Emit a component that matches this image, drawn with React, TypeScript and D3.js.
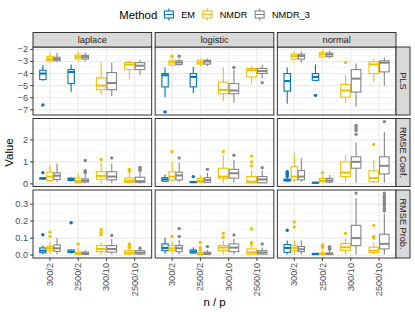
import React, { useEffect, useRef } from "react";
import * as d3 from "d3";

const methods = ["EM", "NMDR", "NMDR_3"];
const methodColors = ["#0073C2", "#EFC000", "#868686"];
const families = ["laplace", "logistic", "normal"];
const metrics = ["PLS", "RMSE Coef.", "RMSE Prob."];
const categories = ["300/2", "2500/2", "300/10", "2500/10"];

const plsTicks = [-7, -6, -5, -4, -3, -2];
const coefTicks = [0, 1, 2];
const probTicks = [0, 0.1, 0.2, 0.3];

// [family, n/p, method, lower whisker, q1, median, q3, upper whisker, outliers]
type Row = [string, string, string, number, number, number, number, number, number[]];

const plsStats: Row[] = [
  ["laplace", "300/2", "EM", -4.6, -4.5, -4.0, -3.73, -3.3, [-6.6]],
  ["laplace", "300/2", "NMDR", -3.1, -2.95, -2.8, -2.6, -2.28, []],
  ["laplace", "300/2", "NMDR_3", -3.05, -2.95, -2.8, -2.65, -2.28, []],
  ["laplace", "2500/2", "EM", -5.5, -4.83, -3.87, -3.67, -3.25, []],
  ["laplace", "2500/2", "NMDR", -3.0, -2.8, -2.64, -2.48, -2.2, []],
  ["laplace", "2500/2", "NMDR_3", -3.0, -2.8, -2.64, -2.5, -2.25, []],
  ["laplace", "300/10", "NMDR", -5.75, -5.33, -5.0, -4.37, -3.1, []],
  ["laplace", "300/10", "NMDR_3", -5.85, -5.33, -4.78, -3.92, -3.1, []],
  ["laplace", "2500/10", "NMDR", -4.47, -3.67, -3.25, -3.08, -2.9, []],
  ["laplace", "2500/10", "NMDR_3", -4.15, -3.67, -3.35, -3.1, -2.85, []],
  ["logistic", "300/2", "EM", -5.95, -5.1, -4.14, -4.0, -3.5, [-7.17]],
  ["logistic", "300/2", "NMDR", -3.35, -3.3, -3.08, -2.95, -2.75, [-2.56]],
  ["logistic", "300/2", "NMDR_3", -3.35, -3.25, -3.08, -2.95, -2.75, [-2.56]],
  ["logistic", "2500/2", "EM", -5.6, -5.1, -4.28, -4.0, -3.45, []],
  ["logistic", "2500/2", "NMDR", -3.4, -3.22, -3.08, -2.9, -2.75, []],
  ["logistic", "2500/2", "NMDR_3", -3.4, -3.22, -3.0, -2.9, -2.75, []],
  ["logistic", "300/10", "NMDR", -6.28, -5.67, -5.35, -4.7, -3.5, []],
  ["logistic", "300/10", "NMDR_3", -6.42, -5.67, -5.4, -4.83, -3.7, [-3.5]],
  ["logistic", "2500/10", "NMDR", -4.83, -4.28, -3.72, -3.58, -3.4, []],
  ["logistic", "2500/10", "NMDR_3", -4.42, -4.0, -3.8, -3.58, -3.3, [-4.75]],
  ["normal", "300/2", "EM", -6.5, -5.45, -4.62, -4.0, -3.5, []],
  ["normal", "300/2", "NMDR", -2.95, -2.8, -2.56, -2.4, -2.2, []],
  ["normal", "300/2", "NMDR_3", -3.08, -2.8, -2.55, -2.4, -2.15, []],
  ["normal", "2500/2", "EM", -4.6, -4.56, -4.28, -4.0, -3.25, [-5.8]],
  ["normal", "2500/2", "NMDR", -2.75, -2.62, -2.42, -2.28, -2.06, []],
  ["normal", "2500/2", "NMDR_3", -2.75, -2.6, -2.42, -2.3, -2.1, []],
  ["normal", "300/10", "NMDR", -6.45, -5.95, -5.4, -4.9, -4.1, [-3.08]],
  ["normal", "300/10", "NMDR_3", -6.72, -5.53, -4.42, -3.67, -3.17, []],
  ["normal", "2500/10", "NMDR", -4.7, -4.0, -3.25, -3.03, -2.83, []],
  ["normal", "2500/10", "NMDR_3", -4.98, -3.86, -3.1, -2.95, -2.67, []],
];

const coefStats: Row[] = [
  ["laplace", "300/2", "EM", 0.18, 0.22, 0.25, 0.27, 0.3, [0.51]],
  ["laplace", "300/2", "NMDR", 0.1, 0.15, 0.33, 0.53, 0.86, []],
  ["laplace", "300/2", "NMDR_3", 0.1, 0.2, 0.37, 0.5, 0.93, []],
  ["laplace", "2500/2", "EM", 0.12, 0.15, 0.2, 0.26, 0.3, []],
  ["laplace", "2500/2", "NMDR", 0.03, 0.05, 0.12, 0.26, 0.48, []],
  ["laplace", "2500/2", "NMDR_3", 0.04, 0.08, 0.15, 0.22, 0.42, [0.5, 0.55, 0.6, 1.06]],
  ["laplace", "300/10", "NMDR", 0.03, 0.21, 0.36, 0.55, 0.96, [1.11]],
  ["laplace", "300/10", "NMDR_3", 0.03, 0.18, 0.33, 0.55, 0.93, [1.18]],
  ["laplace", "2500/10", "NMDR", 0.02, 0.07, 0.13, 0.26, 0.5, [0.58, 0.62, 0.66]],
  ["laplace", "2500/10", "NMDR_3", 0.02, 0.07, 0.12, 0.3, 0.55, [0.62, 0.68, 0.75]],
  ["logistic", "300/2", "EM", 0.08, 0.12, 0.2, 0.28, 0.42, []],
  ["logistic", "300/2", "NMDR", 0.08, 0.18, 0.33, 0.55, 1.0, [1.46]],
  ["logistic", "300/2", "NMDR_3", 0.08, 0.18, 0.38, 0.53, 0.96, [1.18]],
  ["logistic", "2500/2", "EM", 0.04, 0.06, 0.08, 0.1, 0.12, [0.33]],
  ["logistic", "2500/2", "NMDR", 0.04, 0.07, 0.13, 0.25, 0.4, []],
  ["logistic", "2500/2", "NMDR_3", 0.04, 0.07, 0.17, 0.28, 0.5, [0.66]],
  ["logistic", "300/10", "NMDR", 0.05, 0.26, 0.33, 0.71, 1.3, [1.46]],
  ["logistic", "300/10", "NMDR_3", 0.05, 0.26, 0.48, 0.66, 1.1, [1.3]],
  ["logistic", "2500/10", "NMDR", 0.03, 0.05, 0.1, 0.33, 0.6, [0.81, 1.0, 1.26]],
  ["logistic", "2500/10", "NMDR_3", 0.03, 0.05, 0.2, 0.33, 0.6, [0.73]],
  ["normal", "300/2", "EM", 0.1, 0.13, 0.17, 0.22, 0.3, [0.35, 0.43, 0.5, 0.55]],
  ["normal", "300/2", "NMDR", 0.08, 0.18, 0.33, 0.78, 1.41, []],
  ["normal", "300/2", "NMDR_3", 0.1, 0.18, 0.33, 0.6, 1.16, []],
  ["normal", "2500/2", "EM", 0.03, 0.04, 0.05, 0.07, 0.09, []],
  ["normal", "2500/2", "NMDR", 0.05, 0.1, 0.15, 0.25, 0.4, [0.51]],
  ["normal", "2500/2", "NMDR_3", 0.05, 0.08, 0.15, 0.25, 0.4, []],
  ["normal", "300/10", "NMDR", 0.08, 0.33, 0.51, 1.0, 1.31, []],
  ["normal", "300/10", "NMDR_3", 0.05, 0.71, 1.0, 1.23, 1.88, [2.25, 2.42, 2.5, 2.58, 2.65]],
  ["normal", "2500/10", "NMDR", 0.04, 0.1, 0.26, 0.59, 1.08, [1.79]],
  ["normal", "2500/10", "NMDR_3", 0.05, 0.45, 0.82, 1.23, 2.36, [2.83]],
];

const probStats: Row[] = [
  ["laplace", "300/2", "EM", 0.005, 0.014, 0.026, 0.042, 0.056, [0.12]],
  ["laplace", "300/2", "NMDR", 0.005, 0.026, 0.04, 0.05, 0.075, [0.11, 0.135]],
  ["laplace", "300/2", "NMDR_3", 0.005, 0.022, 0.04, 0.06, 0.1, []],
  ["laplace", "2500/2", "EM", 0.01, 0.015, 0.02, 0.03, 0.035, [0.19]],
  ["laplace", "2500/2", "NMDR", 0.002, 0.004, 0.01, 0.017, 0.045, [0.065]],
  ["laplace", "2500/2", "NMDR_3", 0.002, 0.004, 0.01, 0.017, 0.03, []],
  ["laplace", "300/10", "NMDR", 0.003, 0.02, 0.036, 0.056, 0.075, [0.12, 0.135, 0.15]],
  ["laplace", "300/10", "NMDR_3", 0.005, 0.017, 0.036, 0.056, 0.095, [0.115]],
  ["laplace", "2500/10", "NMDR", 0.002, 0.006, 0.014, 0.026, 0.04, [0.045, 0.05, 0.055, 0.06, 0.065]],
  ["laplace", "2500/10", "NMDR_3", 0.002, 0.006, 0.014, 0.026, 0.035, [0.04]],
  ["logistic", "300/2", "EM", 0.008, 0.026, 0.042, 0.066, 0.1, []],
  ["logistic", "300/2", "NMDR", 0.005, 0.026, 0.04, 0.056, 0.08, [0.11]],
  ["logistic", "300/2", "NMDR_3", 0.005, 0.02, 0.04, 0.056, 0.09, [0.11, 0.156]],
  ["logistic", "2500/2", "EM", 0.008, 0.012, 0.02, 0.03, 0.045, []],
  ["logistic", "2500/2", "NMDR", 0.002, 0.003, 0.008, 0.017, 0.025, [0.03, 0.045, 0.075]],
  ["logistic", "2500/2", "NMDR_3", 0.002, 0.004, 0.01, 0.017, 0.03, [0.05]],
  ["logistic", "300/10", "NMDR", 0.005, 0.026, 0.044, 0.056, 0.085, [0.105, 0.128]],
  ["logistic", "300/10", "NMDR_3", 0.005, 0.02, 0.044, 0.066, 0.095, [0.118]],
  ["logistic", "2500/10", "NMDR", 0.002, 0.005, 0.016, 0.036, 0.056, [0.065, 0.075, 0.155]],
  ["logistic", "2500/10", "NMDR_3", 0.002, 0.006, 0.015, 0.026, 0.045, [0.065]],
  ["normal", "300/2", "EM", 0.005, 0.016, 0.042, 0.062, 0.086, [0.146]],
  ["normal", "300/2", "NMDR", 0.005, 0.026, 0.042, 0.056, 0.086, [0.165, 0.195]],
  ["normal", "300/2", "NMDR_3", 0.005, 0.02, 0.034, 0.05, 0.086, []],
  ["normal", "2500/2", "EM", 0.002, 0.003, 0.006, 0.01, 0.013, []],
  ["normal", "2500/2", "NMDR", 0.001, 0.003, 0.006, 0.012, 0.03, [0.045, 0.05, 0.055, 0.06]],
  ["normal", "2500/2", "NMDR_3", 0.001, 0.003, 0.008, 0.012, 0.03, [0.035, 0.04, 0.045, 0.05]],
  ["normal", "300/10", "NMDR", 0.004, 0.028, 0.046, 0.068, 0.1, [0.128]],
  ["normal", "300/10", "NMDR_3", 0.003, 0.056, 0.1, 0.175, 0.335, [0.365]],
  ["normal", "2500/10", "NMDR", 0.003, 0.014, 0.026, 0.046, 0.075, [0.1, 0.11, 0.175]],
  ["normal", "2500/10", "NMDR_3", 0.003, 0.036, 0.066, 0.123, 0.245, [0.26, 0.275, 0.29, 0.3, 0.31, 0.32, 0.33, 0.34, 0.35, 0.365]],
];

const rowStats = [plsStats, coefStats, probStats];
const rowTicks = [plsTicks, coefTicks, probTicks];
const rowFormats = [d3.format("d"), d3.format("d"), d3.format(".1f")];

const W = 415;
const H = 312;
const FONT = "'Liberation Sans', Arial, sans-serif";

export default function App() {
  const svgRef = useRef<SVGSVGElement>(null);

  useEffect(() => {
    if (!svgRef.current) return;
    const svg = d3.select(svgRef.current);
    svg.selectAll("*").remove();

    const margin = { top: 47, right: 19, bottom: 54, left: 33 };
    const gap = 3.5;
    const stripH = 14.5;
    const stripW = 14;
    const pw = (W - margin.left - margin.right - 2 * gap) / 3;
    const ph = (H - margin.top - margin.bottom - 2 * gap) / 3;
    const color = d3.scaleOrdinal<string, string>().domain(methods).range(methodColors);

    svg.append("rect").attr("width", W).attr("height", H).attr("fill", "white");

    metrics.forEach((metric, r) => {
      const stats = rowStats[r];
      const all = stats.flatMap(d => [d[3], d[7], ...d[8]]);
      const lo = d3.min(all)!;
      const hi = d3.max(all)!;
      const pad = (hi - lo) * 0.05;
      const ticks = rowTicks[r];
      const py = margin.top + r * (ph + gap);
      const y = d3.scaleLinear().domain([lo - pad, hi + pad]).range([py + ph, py]);
      const step = ticks[1] - ticks[0];
      const minors: number[] = [];
      for (let i = -1; i < ticks.length; i++) {
        const v = ticks[0] + (i + 0.5) * step;
        if (v > lo - pad && v < hi + pad) minors.push(v);
      }

      families.forEach((fam, c) => {
        const px = margin.left + c * (pw + gap);
        const x = d3.scalePoint<string>().domain(categories).range([px, px + pw]).padding(0.6);
        const g = svg.append("g");

        g.append("rect").attr("x", px).attr("y", py).attr("width", pw).attr("height", ph).attr("fill", "white");

        g.selectAll(".minor").data(minors).enter().append("line")
          .attr("x1", px).attr("x2", px + pw)
          .attr("y1", d => y(d)).attr("y2", d => y(d))
          .attr("stroke", "#EBEBEB").attr("stroke-width", 0.55);

        g.selectAll(".major").data(ticks).enter().append("line")
          .attr("x1", px).attr("x2", px + pw)
          .attr("y1", d => y(d)).attr("y2", d => y(d))
          .attr("stroke", "#EBEBEB").attr("stroke-width", 1.1);

        g.selectAll(".xmajor").data(categories).enter().append("line")
          .attr("x1", d => x(d)!).attr("x2", d => x(d)!)
          .attr("y1", py).attr("y2", py + ph)
          .attr("stroke", "#EBEBEB").attr("stroke-width", 1.1);

        // boxes
        const famStats = stats.filter(d => d[0] === fam);
        categories.forEach(cat => {
          const grp = famStats.filter(d => d[1] === cat)
            .sort((a, b) => methods.indexOf(a[2]) - methods.indexOf(b[2]));
          const n = grp.length;
          const slot = (0.75 * x.step()) / n;
          grp.forEach((d, k) => {
            const cx = x(cat)! + (k - (n - 1) / 2) * slot;
            const bw = slot * 0.9;
            const col = color(d[2]);
            g.append("line").attr("x1", cx).attr("x2", cx).attr("y1", y(d[3])).attr("y2", y(d[4]))
              .attr("stroke", col).attr("stroke-width", 1.1);
            g.append("line").attr("x1", cx).attr("x2", cx).attr("y1", y(d[6])).attr("y2", y(d[7]))
              .attr("stroke", col).attr("stroke-width", 1.1);
            g.append("rect").attr("x", cx - bw / 2).attr("y", y(d[6]))
              .attr("width", bw).attr("height", Math.max(0.5, y(d[4]) - y(d[6])))
              .attr("fill", "white").attr("stroke", col).attr("stroke-width", 1.1);
            g.append("line").attr("x1", cx - bw / 2).attr("x2", cx + bw / 2)
              .attr("y1", y(d[5])).attr("y2", y(d[5]))
              .attr("stroke", col).attr("stroke-width", 2);
            g.selectAll(null).data(d[8]).enter().append("circle")
              .attr("cx", cx).attr("cy", v => y(v)).attr("r", 1.7).attr("fill", col);
          });
        });

        g.append("rect").attr("x", px).attr("y", py).attr("width", pw).attr("height", ph)
          .attr("fill", "none").attr("stroke", "#333333").attr("stroke-width", 1);

        // top strip
        if (r === 0) {
          g.append("rect").attr("x", px).attr("y", py - stripH).attr("width", pw).attr("height", stripH)
            .attr("fill", "#D9D9D9").attr("stroke", "#333333").attr("stroke-width", 1);
          g.append("text").attr("x", px + pw / 2).attr("y", py - stripH / 2)
            .attr("text-anchor", "middle").attr("dominant-baseline", "central")
            .attr("font-family", FONT).attr("font-size", 9.2).attr("fill", "#1A1A1A").text(fam);
        }
        // right strip
        if (c === families.length - 1) {
          g.append("rect").attr("x", px + pw).attr("y", py).attr("width", stripW).attr("height", ph)
            .attr("fill", "#D9D9D9").attr("stroke", "#333333").attr("stroke-width", 1);
          g.append("text")
            .attr("transform", `translate(${px + pw + stripW / 2},${py + ph / 2}) rotate(90)`)
            .attr("text-anchor", "middle").attr("dominant-baseline", "central")
            .attr("font-family", FONT).attr("font-size", 9.2).attr("fill", "#1A1A1A").text(metric);
        }
        // y axis
        if (c === 0) {
          ticks.forEach(t => {
            g.append("line").attr("x1", px - 2.8).attr("x2", px).attr("y1", y(t)).attr("y2", y(t))
              .attr("stroke", "#333333").attr("stroke-width", 1);
            g.append("text").attr("x", px - 5).attr("y", y(t))
              .attr("text-anchor", "end").attr("dominant-baseline", "central")
              .attr("font-family", FONT).attr("font-size", 9.2).attr("fill", "#4D4D4D")
              .text(rowFormats[r](t));
          });
        }
        // x axis
        if (r === metrics.length - 1) {
          categories.forEach(cat => {
            g.append("line").attr("x1", x(cat)!).attr("x2", x(cat)!).attr("y1", py + ph).attr("y2", py + ph + 2.8)
              .attr("stroke", "#333333").attr("stroke-width", 1);
            g.append("text")
              .attr("transform", `translate(${x(cat)!},${py + ph + 5}) rotate(-90)`)
              .attr("text-anchor", "end").attr("dominant-baseline", "central")
              .attr("font-family", FONT).attr("font-size", 9.2).attr("fill", "#4D4D4D")
              .text(cat);
          });
        }
      });
    });

    // axis titles
    const plotCx = margin.left + (W - margin.left - margin.right) / 2;
    svg.append("text").attr("x", plotCx).attr("y", H - 6)
      .attr("text-anchor", "middle").attr("font-family", FONT).attr("font-size", 11.4).attr("fill", "black")
      .text("n / p");
    svg.append("text")
      .attr("transform", `translate(${13},${margin.top + (H - margin.top - margin.bottom) / 2}) rotate(-90)`)
      .attr("text-anchor", "middle").attr("font-family", FONT).attr("font-size", 11.4).attr("fill", "black")
      .text("Value");

    // legend
    const lg = svg.append("g");
    const ly = 14.5;
    const title = lg.append("text").attr("x", 0).attr("y", ly).attr("dominant-baseline", "central")
      .attr("font-family", FONT).attr("font-size", 11.4).attr("fill", "black").text("Method");
    let cur = (title.node() as SVGTextElement).getComputedTextLength() + 3;
    const keyW = 17.3;
    methods.forEach((m, i) => {
      const kx = cur + keyW / 2;
      const col = methodColors[i];
      lg.append("line").attr("x1", kx).attr("x2", kx).attr("y1", ly - 6).attr("y2", ly + 6)
        .attr("stroke", col).attr("stroke-width", 1.1);
      lg.append("rect").attr("x", kx - 4.5).attr("y", ly - 3.5).attr("width", 9).attr("height", 7)
        .attr("fill", "white").attr("stroke", col).attr("stroke-width", 1.1);
      lg.append("line").attr("x1", kx - 4.5).attr("x2", kx + 4.5).attr("y1", ly).attr("y2", ly)
        .attr("stroke", col).attr("stroke-width", 1.1);
      const t = lg.append("text").attr("x", cur + keyW + 3.7).attr("y", ly).attr("dominant-baseline", "central")
        .attr("font-family", FONT).attr("font-size", 9.2).attr("fill", "black").text(m);
      cur += keyW + 3.7 + (t.node() as SVGTextElement).getComputedTextLength() + (i < methods.length - 1 ? 3.7 : 0);
    });
    lg.attr("transform", `translate(${plotCx - cur / 2},0)`);
  }, []);

  return (
    <svg ref={svgRef} width={W} height={H}
      style={{ position: "absolute", left: 0, top: 0, display: "block" }} />
  );
}
